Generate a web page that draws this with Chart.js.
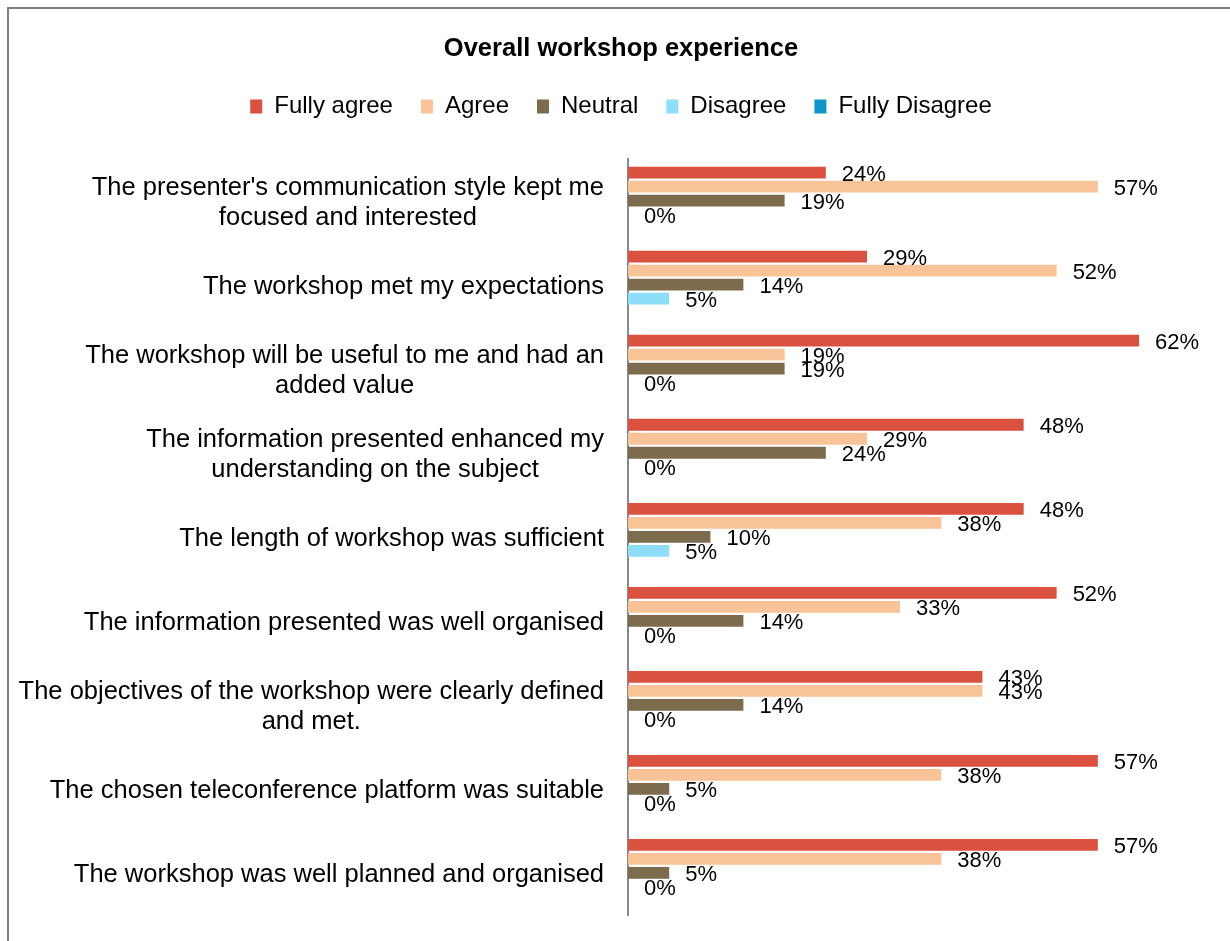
<!DOCTYPE html>
<html>
<head>
<meta charset="utf-8">
<script src="https://cdn.jsdelivr.net/npm/chart.js@4/dist/chart.umd.min.js"></script>
<style>
    html, body { margin: 0; padding: 0; background: #fff; overflow: hidden; }
    #wrap { position: relative; width: 1230px; height: 941px; }
    #frame {
        position: absolute; left: 7px; top: 7px; width: 1300px; height: 1000px;
        border-top: 2px solid #808080; border-left: 2px solid #808080;
        pointer-events: none;
    }
</style>
</head>
<body>
<div id="wrap">
    <canvas id="surveyChart" width="1230" height="941"></canvas>
    <div id="frame"></div>
</div>
<script>
const categories = [
    ["The presenter's communication style kept me", "focused and interested"],
    ["The workshop met my expectations"],
    ["The workshop will be useful to me and had an", "added value"],
    ["The information presented enhanced my", "understanding on the subject"],
    ["The length of workshop was sufficient"],
    ["The information presented was well organised"],
    ["The objectives of the workshop were clearly defined", "and met."],
    ["The chosen teleconference platform was suitable"],
    ["The workshop was well planned and organised"]
];

const fullyAgree    = [24, 29, 62, 48, 48, 52, 43, 57, 57];
const agree         = [57, 52, 19, 29, 38, 33, 43, 38, 38];
const neutral       = [19, 14, 19, 24, 10, 14, 14, 5, 5];
const disagree      = [0, 5, 0, 0, 5, 0, 0, 0, 0];
const fullyDisagree = [0, 0, 0, 0, 0, 0, 0, 0, 0];

const seriesNames = ['Fully agree', 'Agree', 'Neutral', 'Disagree', 'Fully Disagree'];
const seriesColors = ['#DA513F', '#F9C398', '#7D6B4D', '#8EDEFA', '#0E96CA'];
const seriesData = [fullyAgree, agree, neutral, disagree, fullyDisagree];
// Fully Disagree bars carry no value labels in the original
const labelledSeries = [true, true, true, true, false];

const FONT = "'Liberation Sans', Arial, sans-serif";

// push the plot area down below the legend
const legendGap = {
    id: 'legendGap',
    beforeInit(chart) {
        const fit = chart.legend.fit;
        chart.legend.fit = function () {
            fit.bind(chart.legend)();
            this.height += 30;
        };
    }
};

// category labels: each label's lines centred on one another, block right-aligned
const categoryLabels = {
    id: 'categoryLabels',
    afterDraw(chart) {
        const ctx = chart.ctx;
        const yScale = chart.scales.y;
        const right = chart.chartArea.left - 24;
        ctx.save();
        ctx.font = '25.5px ' + FONT;
        ctx.fillStyle = '#000';
        ctx.textAlign = 'center';
        ctx.textBaseline = 'middle';
        categories.forEach((lines, i) => {
            const widest = Math.max(...lines.map(l => ctx.measureText(l).width));
            const cx = right - widest / 2;
            const cy = yScale.getPixelForTick(i) + 2;
            lines.forEach((line, j) => {
                ctx.fillText(line, cx, cy + (j - (lines.length - 1) / 2) * 30);
            });
        });
        ctx.restore();
    }
};

// percentage labels right of each bar
const valueLabels = {
    id: 'valueLabels',
    afterDatasetsDraw(chart) {
        const ctx = chart.ctx;
        ctx.save();
        ctx.font = '22px ' + FONT;
        ctx.fillStyle = '#000';
        ctx.textAlign = 'left';
        ctx.textBaseline = 'middle';
        chart.data.datasets.forEach((ds, d) => {
            if (!labelledSeries[d]) return;
            chart.getDatasetMeta(d).data.forEach((bar, i) => {
                ctx.fillText(ds.data[i] + '%', bar.x + 16, bar.y + 2);
            });
        });
        ctx.restore();
    }
};

function buildDatasets() {
    return seriesNames.map((name, i) => ({
        label: name,
        data: seriesData[i],
        backgroundColor: seriesColors[i],
        borderWidth: 0,
        categoryPercentage: 0.833,
        barPercentage: 0.84
    }));
}

const ctx = document.getElementById('surveyChart').getContext('2d');
const surveyChart = new Chart(ctx, {
    type: 'bar',
    data: {
        labels: categories,
        datasets: buildDatasets()
    },
    options: {
        indexAxis: 'y',
        responsive: false,
        animation: false,
        layout: {
            padding: { top: 0, right: 25, bottom: 26, left: 37 }
        },
        plugins: {
            title: {
                display: true,
                text: 'Overall workshop experience',
                color: '#000',
                font: { family: FONT, size: 25.5, weight: 'bold' },
                padding: { top: 34, bottom: 2 }
            },
            legend: {
                position: 'top',
                labels: {
                    color: '#000',
                    font: { family: FONT, size: 24 },
                    boxWidth: 12,
                    boxHeight: 14,
                    padding: 28
                }
            },
            tooltip: { enabled: false }
        },
        scales: {
            x: {
                display: false,
                min: 0,
                max: 70
            },
            y: {
                grid: { display: false, drawTicks: false },
                border: { display: true, color: '#888', width: 2 },
                ticks: { display: false },
                afterFit(scale) {
                    scale.width = 591;
                }
            }
        }
    },
    plugins: [legendGap, categoryLabels, valueLabels]
});
</script>
</body>
</html>
